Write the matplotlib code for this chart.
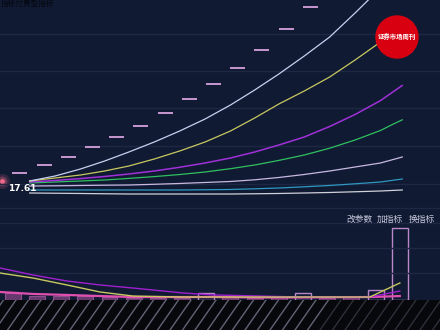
import numpy as np
import matplotlib
matplotlib.use('Agg')
import matplotlib.pyplot as plt
from matplotlib.patches import Circle, Rectangle

plt.rcParams['font.family'] = ['Noto Sans CJK SC', 'DejaVu Sans']

# ---- price panel data (x = trading day index) ----
dash_day = [0, 1, 2, 3, 4, 5, 6, 7, 8, 9, 10, 11, 12]
dash_price = [19.37, 21.31, 23.44, 25.78, 28.36, 31.20, 34.32, 37.75, 41.52, 45.67, 50.24, 55.27, 60.80]

curve_day = [0.4, 1.45, 2.5, 3.5, 4.5, 5.55, 6.6, 7.65, 8.7, 9.7, 10.7, 11.75, 12.8, 13.85, 14.9, 15.35, 15.8]
curve_white = [17.37, 18.62, 20.37, 22.37, 24.62, 27.12, 29.87, 32.87, 36.37, 40.12, 44.12, 48.62,
               53.37, 59.37, 65.62, 69.12, 72.62]
curve_yellow = [17.37, 18.12, 18.87, 19.87, 21.12, 22.87, 24.87, 27.12, 29.87, 33.12, 36.62, 39.87,
                43.37, 47.62, 52.12, 54.37, 56.37]
curve_purple = [17.12, 17.50, 17.97, 18.50, 19.12, 19.87, 20.80, 21.87, 23.12, 24.62, 26.37, 28.37,
                31.00, 34.00, 37.47, 39.37, 41.25]
curve_green = [16.87, 17.12, 17.37, 17.62, 18.02, 18.47, 18.99, 19.62, 20.45, 21.37, 22.52, 23.87,
               25.57, 27.62, 30.00, 31.37, 32.67]
curve_lavender = [16.12, 16.17, 16.25, 16.32, 16.37, 16.55, 16.75, 17.00, 17.25, 17.67, 18.25, 19.00,
                  19.87, 20.87, 21.87, 22.62, 23.37]
curve_cyan = [15.12, 15.12, 15.12, 15.12, 15.12, 15.12, 15.12, 15.18, 15.25, 15.42, 15.62, 15.92,
              16.25, 16.67, 17.12, 17.50, 17.87]
curve_gray = [14.37, 14.31, 14.25, 14.18, 14.12, 14.12, 14.12, 14.12, 14.12, 14.18, 14.25, 14.37,
              14.50, 14.68, 14.87, 15.00, 15.12]

price_grid = [54.12, 44.87, 35.62, 26.12, 16.62]
low_label = '17.61'

# ---- volume panel data ----
vol_day = [-0.3, 0.7, 1.7, 2.7, 3.7, 4.7, 5.7, 6.7, 7.7, 8.7, 9.7, 10.7, 11.7, 12.7, 13.7, 14.7, 15.7]
vol_height = [8, 5, 5, 4, 3, 2, 2, 2, 8, 3, 2, 3, 8, 2, 3, 11, 80]
vol_hollow = [False, False, False, False, False, False, False, False, True,
              False, False, False, True, False, False, True, True]

ma_day = [-0.83, 0.54, 1.94, 3.31, 4.67, 6.74, 7.98, 9.92, 11.57, 14.46, 15.7]
ma_yellow = [30.0, 24.4, 16.7, 8.9, 4.4, 3.3, 3.3, 3.3, 3.3, 3.3, 18.9]
ma_purple = [35.6, 27.8, 21.1, 16.7, 13.3, 7.8, 5.6, 4.4, 3.3, 3.3, 10.0]
ma_pink = [8.9, 6.7, 5.6, 4.4, 3.3, 3.3, 3.3, 2.8, 2.8, 3.3, 4.4]
vol_grid = [85.6, 57.8, 30.0]

buttons = ['改参数', '加指标', '换指标']

bg = '#101a33'
grid_c = '#1f2843'

fig = plt.figure(figsize=(4.4, 3.3), dpi=100, facecolor=bg)

# price panel
ax = fig.add_axes([0, 120 / 330, 1, 210 / 330])
ax.set_axis_off()
ax.set_xlim(-0.826, 17.36)
ax.set_ylim(10.12, 62.62)
for g in price_grid:
    ax.axhline(g, color=grid_c, lw=1)
ax.axhline(10.6, color=grid_c, lw=1)

d = np.array(dash_day)
ax.hlines(dash_price, d - 0.31, d + 0.31, color='#c898d0', lw=1.4)

ax.plot(curve_day, curve_gray, color='#d0d0d8', lw=0.9)
ax.plot(curve_day, curve_cyan, color='#3098c0', lw=0.9)
ax.plot(curve_day, curve_lavender, color='#c8b8e0', lw=0.9)
ax.plot(curve_day, curve_green, color='#30c060', lw=0.9)
ax.plot(curve_day, curve_purple, color='#a030d8', lw=1.1)
ax.plot(curve_day, curve_yellow, color='#c8c860', lw=0.9)
ax.plot(curve_day, curve_white, color='#c8d0f0', lw=0.9)

# glowing dot at the start
for s, a in [(120, 0.15), (50, 0.3), (12, 0.9)]:
    ax.scatter([-0.75], [17.4], s=s, color='#ff7090', alpha=a, lw=0)
ax.text(-0.5, 15.6, low_label, color='white', fontsize=6.5, fontweight='bold',
        va='center', ha='left', family='DejaVu Sans')

# volume panel
vax = fig.add_axes([0, 30 / 330, 1, 90 / 330])
vax.set_axis_off()
vax.set_xlim(-0.826, 17.36)
vax.set_ylim(0, 100)
for g in vol_grid:
    vax.axhline(g, color=grid_c, lw=1)
for x, h, hol in zip(vol_day, vol_height, vol_hollow):
    if hol:
        vax.bar(x, h, width=0.66, facecolor='none', edgecolor='#b888c8', lw=1.0)
    else:
        vax.bar(x, h, width=0.66, facecolor='#d060b8', edgecolor='#f080d0', lw=0.8, alpha=0.45)
vax.plot(ma_day, ma_pink, color='#e050b0', lw=1.6)
vax.plot(ma_day, ma_purple, color='#a020d0', lw=1.0)
vax.plot(ma_day, ma_yellow, color='#c8c860', lw=1.0)

# black hatched strip at the bottom
hax = fig.add_axes([0, 0, 1, 30 / 330])
hax.set_axis_off()
hax.set_xlim(0, 440)
hax.set_ylim(0, 30)
hax.add_patch(Rectangle((0, 0), 440, 30, color='#07080c'))
for x0 in np.arange(-30, 450, 12.5):
    fade = 0.8 if x0 < 320 else 0.35
    hax.plot([x0, x0 + 21], [0, 30], color='#7a7a90', lw=1.0, alpha=fade)

# overlay for logo and texts (pixel coords)
ov = fig.add_axes([0, 0, 1, 1])
ov.set_axis_off()
ov.set_xlim(0, 440)
ov.set_ylim(330, 0)
ov.add_patch(Circle((397, 37), 21, color='#d80010'))
ov.text(397, 37, '证券市场周刊', color='white', fontsize=4.6, fontweight='bold',
        ha='center', va='center')
ov.text(1, 4, '指标付费型指标', color='#05070e', fontsize=5.5, ha='left', va='center')
for bx, b in zip([360, 390, 422], buttons):
    ov.text(bx, 219, b, color='#c8c8dc', fontsize=6.3, ha='center', va='center')

fig.savefig('out.png', dpi=100, facecolor=bg)
